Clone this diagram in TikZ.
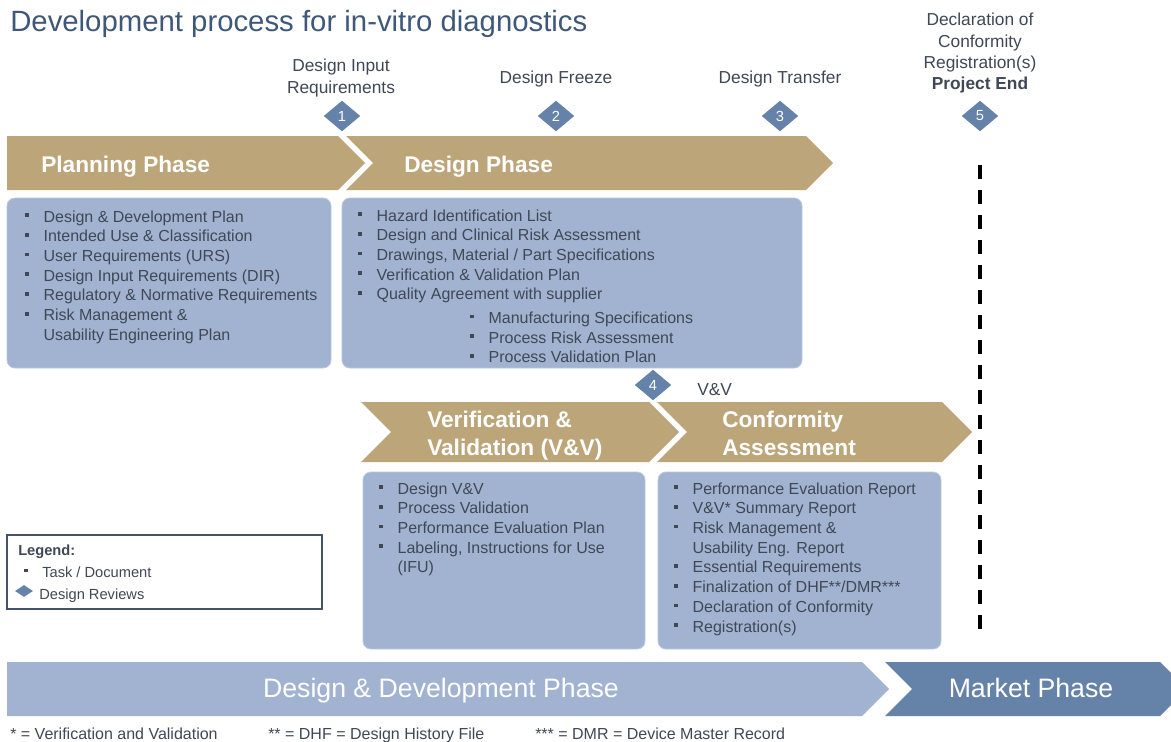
\documentclass[tikz,border=0pt]{standalone}
\usepackage{fontspec}
\setmainfont{Liberation Sans}
\usetikzlibrary{shapes.geometric}
\definecolor{phasetan}{RGB}{189,165,122}
\definecolor{boxblue}{RGB}{161,179,208}
\definecolor{boxedge}{RGB}{186,200,222}
\definecolor{reviewblue}{RGB}{101,130,168}
\definecolor{titleblue}{RGB}{62,88,122}
\definecolor{textgray}{RGB}{64,72,86}
\definecolor{legendedge}{RGB}{68,84,106}
\newcommand{\sqb}{\makebox[13.75pt][l]{\rule[3.8pt]{2.8pt}{2.8pt}}}
\newcommand{\skipb}{\hspace*{13.75pt}}
\newcommand{\stack}[1]{\begin{tabular}[t]{@{}l@{}}#1\end{tabular}}
\newcommand{\stackc}[1]{\begin{tabular}[t]{@{}c@{}}#1\end{tabular}}
\tikzset{
  phase/.style = {inner sep=0pt, anchor=base west, white,
    font=\fontsize{17}{21}\selectfont\bfseries},% phase header on a band
  tasks/.style = {inner sep=0pt, anchor=base west, textgray,
    font=\fontsize{12}{14.8}\selectfont},% list of tasks / documents
  taskbox/.style = {draw=boxedge, fill=boxblue, rounded corners=6pt,
    line width=0.6pt},
  review/.style = {diamond, fill=reviewblue, text=white, inner sep=0pt,
    minimum width=27.5pt, minimum height=23pt,
    font=\fontsize{11}{11}\selectfont},% design review
  milestone/.style = {inner sep=0pt, anchor=base, textgray,
    font=\fontsize{13}{16}\selectfont},
  legendtext/.style = {inner sep=0pt, anchor=base west, textgray,
    font=\fontsize{11}{13}\selectfont},
  note/.style = {inner sep=0pt, anchor=base west, textgray,
    font=\fontsize{12}{14}\selectfont},
  band/.style = {inner sep=0pt, anchor=base, white,
    font=\fontsize{20}{24}\selectfont},
  endline/.style = {line width=2.6pt, dash pattern=on 10.5pt off 8.25pt},
  legendbox/.style = {draw=legendedge, line width=1pt}
}

\begin{document}
\begin{tikzpicture}[x=0.75pt, y=-0.75pt]
  \useasboundingbox (0,0) rectangle (1171,742);
  \clip (0,0) rectangle (1171,742);
  \fill[white] (0,0) rectangle (1171,742);

  \node (title) [inner sep=0pt, anchor=base west, titleblue,
    font=\fontsize{22}{26}\selectfont] at (10,32)
    {Development process for in-vitro diagnostics};

  % milestones
  \node (dir) [milestone] at (341,71.7) {\stackc{Design Input\\Requirements}};
  \node (freeze) [milestone] at (556,84) {Design Freeze};
  \node (transfer) [milestone] at (780,83.5) {Design Transfer};
  \node (projend) [milestone] at (980,26)
    {\stackc{Declaration of\\Conformity\\Registration(s)\\\textbf{Project End}}};
  \node (r1) [review] at (342,116) {1};
  \node (r2) [review] at (556,116) {2};
  \node (r3) [review] at (780,116) {3};
  \node (r5) [review] at (980,116) {5};

  % top row of phases
  \fill[phasetan] (7,136) -- (338,136) -- (365,163) -- (338,190) -- (7,190) -- cycle;
  \fill[phasetan] (346,136) -- (806,136) -- (833,163) -- (806,190) -- (346,190)
    -- (373,163) -- cycle;
  \node (planning) [phase] at (41,172) {Planning Phase};
  \node (design) [phase] at (404,172) {Design Phase};

  \draw[taskbox] (7,198) rectangle (331,368);
  \draw[taskbox] (342,198) rectangle (802,368);
  \node (plantasks) [tasks] at (25,222) {\stack{%
    \sqb Design \& Development Plan\\
    \sqb Intended Use \& Classification\\
    \sqb User Requirements (URS)\\
    \sqb Design Input Requirements (DIR)\\
    \sqb Regulatory \& Normative Requirements\\
    \sqb Risk Management \&\\
    \skipb Usability Engineering Plan}};
  \node (designtasks) [tasks] at (358,221) {\stack{%
    \sqb Hazard Identification List\\
    \sqb Design and Clinical Risk Assessment\\
    \sqb Drawings, Material / Part Specifications\\
    \sqb Verification \& Validation Plan\\
    \sqb Quality Agreement with supplier}};
  \node (supptasks) [tasks] at (470,323.5) {\stack{%
    \sqb Manufacturing Specifications\\
    \sqb Process Risk Assessment\\
    \sqb Process Validation Plan}};

  % second row of phases
  \node (r4) [review] at (653,385) {4};
  \node (vvlabel) [milestone, anchor=base west] at (697,395) {V\&V};
  \fill[phasetan] (361,402) -- (649,402) -- (679,432) -- (649,462) -- (361,462)
    -- (391,432) -- cycle;
  \fill[phasetan] (657,402) -- (942,402) -- (972,432) -- (942,462) -- (657,462)
    -- (687,432) -- cycle;
  \node (vvphase) [phase] at (427,427) {\stack{Verification \&\\Validation (V\&V)}};
  \node (caphase) [phase] at (722,427) {\stack{Conformity\\Assessment}};

  \draw[taskbox] (363,472) rectangle (645,649);
  \draw[taskbox] (658,472) rectangle (941,649);
  \node (vvtasks) [tasks] at (379,494) {\stack{%
    \sqb Design V\&V\\
    \sqb Process Validation\\
    \sqb Performance Evaluation Plan\\
    \sqb Labeling, Instructions for Use\\
    \skipb (IFU)}};
  \node (catasks) [tasks] at (674,494) {\stack{%
    \sqb Performance Evaluation Report\\
    \sqb V\&V* Summary Report\\
    \sqb Risk Management \&\\
    \skipb Usability Eng. Report\\
    \sqb Essential Requirements\\
    \sqb Finalization of DHF**/DMR***\\
    \sqb Declaration of Conformity\\
    \sqb Registration(s)}};

  % project end
  \coordinate (endtop) at (980,165);
  \coordinate (endbot) at (980,630);
  \draw[endline] (endtop) -- (endbot);

  % legend
  \draw[legendbox] (7,535) rectangle (322,609);
  \node (legtitle) [legendtext, font=\fontsize{11}{13}\selectfont\bfseries]
    at (18,555) {Legend:};
  \node (legtask) [legendtext] at (24,577)
    {\makebox[13.5pt][l]{\rule[3.5pt]{2.8pt}{2.8pt}}Task / Document};
  \node (legdiamond) [review, minimum width=13.5pt, minimum height=9pt]
    at (24,591) {};
  \node (legreview) [legendtext] at (39,599) {Design Reviews};

  % bottom bands
  \fill[boxblue] (7,662) -- (862,662) -- (889,689) -- (862,716) -- (7,716) -- cycle;
  \fill[reviewblue] (885,662) -- (1160,662) -- (1187,689) -- (1160,716) -- (885,716)
    -- (912,689) -- cycle;
  \node (ddphase) [band] at (441,697) {Design \& Development Phase};
  \node (market) [band] at (1031,697) {Market Phase};

  \node (fn1) [note] at (10,739.5) {* = Verification and Validation};
  \node (fn2) [note] at (268,739.5) {** = DHF = Design History File};
  \node (fn3) [note] at (535,739.5) {*** = DMR = Device Master Record};
\end{tikzpicture}
\end{document}
